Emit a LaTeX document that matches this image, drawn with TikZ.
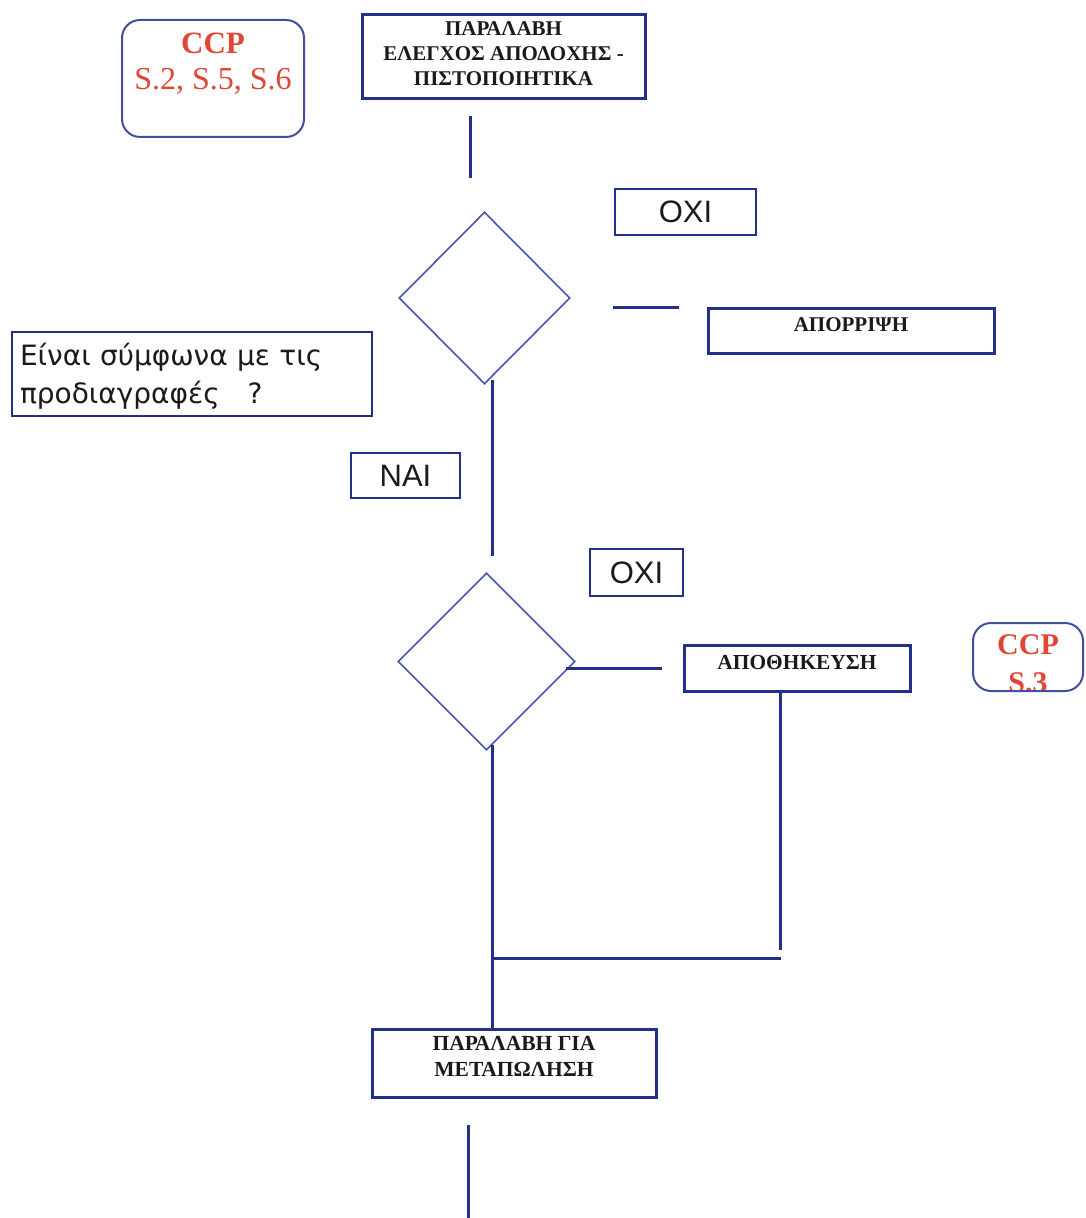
\documentclass[tikz,border=0pt]{standalone}
\usepackage{fontspec}
\setmainfont{Liberation Serif}
\newfontfamily\arialfont{Liberation Sans}
\newfontfamily\dvfont{DejaVu Sans}
\usetikzlibrary{shapes.geometric}

\definecolor{navy}{HTML}{22308A}
\definecolor{dianavy}{HTML}{4656B4}
\definecolor{ccpred}{HTML}{E04634}
\definecolor{ink}{HTML}{1A1A1A}

% raise the text inside a box without changing its reported size
\newcommand{\liftby}[2]{\raisebox{#1}[\height][\depth]{#2}}

\begin{document}
\begin{tikzpicture}[x=0.5pt,y=-0.5pt,
  box/.style={draw=navy, line width=1.5pt, inner sep=0pt, text=ink, align=center,
              font=\bfseries\fontsize{10.5pt}{12.5pt}\selectfont},
  ccpbox/.style={draw=navy!85!white, line width=1pt, rounded corners=9pt, inner sep=0pt,
                 text=ccpred, align=center},
  tag/.style={draw=navy, line width=1pt, inner sep=0pt, text=ink,
              font=\arialfont\fontsize{15.5pt}{18pt}\selectfont},
  decision/.style={diamond, draw=dianavy, line width=0.8pt, inner sep=0pt, shape aspect=1},
  wire/.style={draw=navy, line width=1.5pt}
]
\useasboundingbox (0,0) rectangle (1085,1218);

% critical control point notes
\node[ccpbox, minimum width=91pt, minimum height=58.5pt, font=\fontsize{16pt}{18pt}\selectfont] (ccpa) at (213,78.5)
  {\liftby{7pt}{\begin{tabular}{@{}c@{}}{\bfseries\fontsize{15.5pt}{18pt}\selectfont CCP}\\
   S.2, S.5, S.6\end{tabular}}};

\node[ccpbox, minimum width=55pt, minimum height=34pt,
  path picture={\node[text=ccpred, align=center, inner sep=0pt,
      font=\bfseries\fontsize{15pt}{19pt}\selectfont]
      at ([yshift=-3.6pt]path picture bounding box.center) {CCP\\ S.3};}] (ccpb) at (1028,657) {};

% process boxes
\node[box, minimum width=141.5pt, minimum height=42pt] (recv) at (503.5,57)
  {\liftby{0.5pt}{\begin{tabular}{@{}c@{}}ΠΑΡΑΛΑΒΗ\\ ΕΛΕΓΧΟΣ ΑΠΟΔΟΧΗΣ -\\ ΠΙΣΤΟΠΟΙΗΤΙΚΑ\end{tabular}}};

\node[box, minimum width=143pt, minimum height=22.5pt, font=\bfseries\fontsize{10.5pt}{12pt}\selectfont]
  (reject) at (851,331.5) {\liftby{3.25pt}{ΑΠΟΡΡΙΨΗ}};

\node[box, minimum width=113pt, minimum height=23pt, font=\bfseries\fontsize{10.7pt}{12pt}\selectfont]
  (store) at (797,668) {\liftby{2.5pt}{ΑΠΟΘΗΚΕΥΣΗ}};

\node[box, minimum width=142pt, minimum height=34pt, font=\bfseries\fontsize{10.75pt}{13pt}\selectfont]
  (resale) at (514,1063) {\liftby{2.5pt}{\begin{tabular}{@{}c@{}}ΠΑΡΑΛΑΒΗ ΓΙΑ\\ ΜΕΤΑΠΩΛΗΣΗ\end{tabular}}};

% question
\node[draw=navy, line width=1pt, minimum width=180pt, minimum height=42pt, inner sep=0pt,
      text width=172pt, align=left, text=ink, font=\dvfont\fontsize{14pt}{19pt}\selectfont]
  (question) at (192,374)
  {\liftby{-1.5pt}{\begin{tabular}{@{}l@{}}Είναι σύμφωνα με τις\\ προδιαγραφές\ \ \ ?\end{tabular}}};

% decisions
\node[decision, minimum width=85.5pt, minimum height=86pt] (dec1) at (484.5,298) {};
\node[decision, minimum width=88.5pt, minimum height=88.5pt] (dec2) at (486.5,661.5) {};

% answer tags
\node[tag, minimum width=70.5pt, minimum height=23pt] (no1) at (685.5,212) {ΟΧΙ};
\node[tag, minimum width=54.5pt, minimum height=22.5pt] (yes) at (405.5,475.5) {ΝΑΙ};
\node[tag, minimum width=46.5pt, minimum height=23.5pt] (no2) at (636.5,572.5) {ΟΧΙ};

% connector end points
\coordinate (r1) at (470,116);
\coordinate (r2) at (470,178);
\coordinate (n1) at (613,308);
\coordinate (n2) at (679,308);
\coordinate (y1) at (492,380);
\coordinate (y2) at (492,556);
\coordinate (s1) at (566,668);
\coordinate (s2) at (662,668);
\coordinate (sv) at (780,950);
\coordinate (m1) at (492,745);
\coordinate (mj) at (492,958);
\coordinate (mr) at (781,958);
\coordinate (o1) at (468,1125);
\coordinate (o2) at (468,1218);

% connectors
\draw[wire] (r1) -- (r2);
\draw[wire] (n1) -- (n2);
\draw[wire] (y1) -- (y2);
\draw[wire] (s1) -- (s2);
\draw[wire] (store.south -| sv) -- (sv);
\draw[wire] (m1) -- (resale.north -| m1);
\draw[wire] (mj) -- (mr);
\draw[wire] (o1) -- (o2);
\end{tikzpicture}
\end{document}
